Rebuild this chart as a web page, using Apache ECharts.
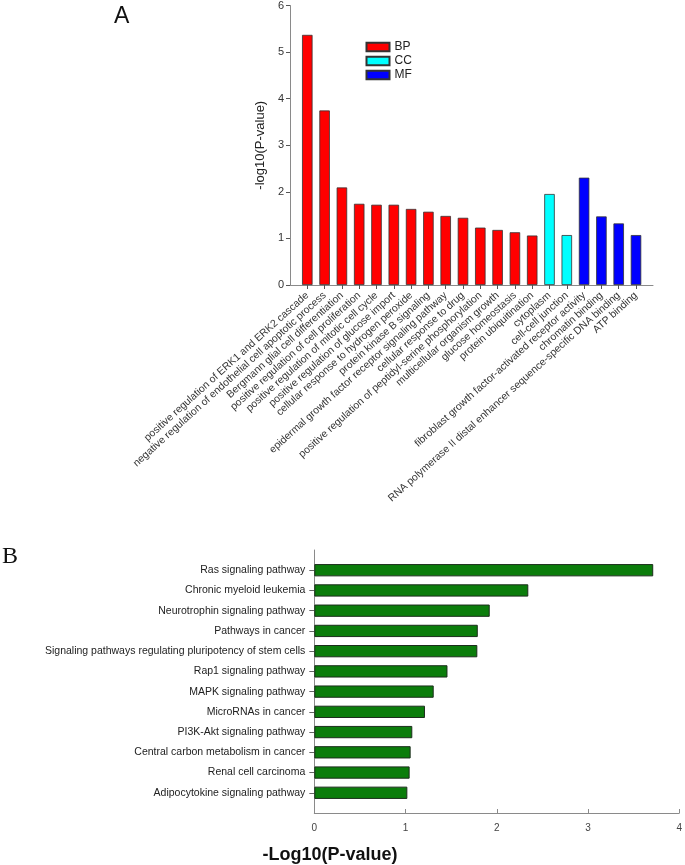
<!DOCTYPE html>
<html>
<head>
<meta charset="utf-8">
<script src="https://cdn.jsdelivr.net/npm/echarts@6/dist/echarts.min.js"></script>
<style>html,body{margin:0;padding:0;background:#fff}#c{width:685px;height:865px}</style>
</head>
<body>
<div id="c"></div>
<script>
// ---- Panel A data ----
const goTerms = [
  "positive regulation of ERK1 and ERK2 cascade",
  "negative regulation of endothelial cell apoptotic process",
  "Bergmann glial cell differentiation",
  "positive regulation of cell proliferation",
  "positive regulation of mitotic cell cycle",
  "positive regulation of glucose import",
  "cellular response to hydrogen peroxide",
  "protein kinase B signaling",
  "epidermal growth factor receptor signaling pathway",
  "cellular response to drug",
  "positive regulation of peptidyl-serine phosphorylation",
  "multicellular organism growth",
  "glucose homeostasis",
  "protein ubiquitination",
  "cytoplasm",
  "cell-cell junction",
  "fibroblast growth factor-activated receptor activity",
  "chromatin binding",
  "RNA polymerase II distal enhancer sequence-specific DNA binding",
  "ATP binding"
];
const bpValues = [5.36, 3.74, 2.09, 1.74, 1.72, 1.72, 1.63, 1.57, 1.48, 1.44, 1.23, 1.18, 1.13, 1.06, '-', '-', '-', '-', '-', '-'];
const ccValues = ['-', '-', '-', '-', '-', '-', '-', '-', '-', '-', '-', '-', '-', '-', 1.95, 1.07, '-', '-', '-', '-'];
const mfValues = ['-', '-', '-', '-', '-', '-', '-', '-', '-', '-', '-', '-', '-', '-', '-', '-', 2.30, 1.47, 1.32, 1.07];
const aTicks = [0, 1, 2, 3, 4, 5, 6];

// ---- Panel B data ----
const pathways = [
  "Ras signaling pathway",
  "Chronic myeloid leukemia",
  "Neurotrophin signaling pathway",
  "Pathways in cancer",
  "Signaling pathways regulating pluripotency of stem cells",
  "Rap1 signaling pathway",
  "MAPK signaling pathway",
  "MicroRNAs in cancer",
  "PI3K-Akt signaling pathway",
  "Central carbon metabolism in cancer",
  "Renal cell carcinoma",
  "Adipocytokine signaling pathway"
];
const pathwayValues = [3.69, 2.33, 1.91, 1.78, 1.775, 1.45, 1.30, 1.205, 1.067, 1.049, 1.038, 1.013];
const bTicks = [0, 1, 2, 3, 4];

const FONT = "'Liberation Sans', Arial, sans-serif";
const axisGray = '#8a8a8a';

const chart = echarts.init(document.getElementById('c'), null, {renderer: 'canvas'});
const option = {
  backgroundColor: '#fff',
  animation: false,
  textStyle: {fontFamily: FONT},
  grid: [
    {left: 290, right: 32, top: 5, height: 280},              // A axes
    {left: 298.65, width: 346, top: 5, height: 280},          // A bars
    {left: 314.3, right: 3.3, top: 550, height: 263},         // B axes
    {left: 314.3, right: 3.3, top: 560.1, height: 242.8}      // B bars
  ],
  legend: {
    data: ['BP', 'CC', 'MF'],
    orient: 'vertical',
    left: 365.5, top: 41,
    padding: 0,
    itemWidth: 23, itemHeight: 8.5, itemGap: 2,
    textStyle: {fontSize: 12, lineHeight: 12, color: '#222', fontFamily: FONT},
    icon: 'rect'
  },
  xAxis: [
    {gridIndex: 0, type: 'value', min: 0, max: 1, axisLabel: {show: false}, axisTick: {show: false}, splitLine: {show: false},
     axisLine: {lineStyle: {color: axisGray, width: 1}}},
    {gridIndex: 1, type: 'category', data: goTerms, boundaryGap: true,
     axisLine: {show: false},
     axisTick: {show: true, alignWithLabel: true, length: 4, lineStyle: {color: '#555'}},
     axisLabel: {interval: 0, rotate: 42, fontSize: 10.4, color: '#333', margin: 9, fontFamily: FONT}},
    {gridIndex: 2, type: 'value', min: bTicks[0], max: bTicks[bTicks.length - 1], interval: 1,
     axisLine: {lineStyle: {color: axisGray}},
     axisTick: {show: true, inside: true, length: 4, lineStyle: {color: axisGray}},
     axisLabel: {fontSize: 10, color: '#444', margin: 10, fontFamily: FONT},
     splitLine: {show: false}},
    {gridIndex: 3, type: 'value', min: 0, max: 4, show: false, splitLine: {show: false}}
  ],
  yAxis: [
    {gridIndex: 0, type: 'value', min: aTicks[0], max: aTicks[aTicks.length - 1], interval: 1,
     name: '-log10(P-value)', nameLocation: 'middle', nameGap: 22,
     nameTextStyle: {fontSize: 13, color: '#222', fontFamily: FONT},
     axisLine: {show: true, lineStyle: {color: axisGray}},
     axisTick: {show: true, length: 4, lineStyle: {color: '#555'}},
     axisLabel: {fontSize: 11, color: '#333', margin: 6, fontFamily: FONT},
     splitLine: {show: false}},
    {gridIndex: 1, type: 'value', min: 0, max: 6, show: false, splitLine: {show: false}},
    {gridIndex: 2, type: 'value', min: 0, max: 1, axisLabel: {show: false}, axisTick: {show: false},
     axisLine: {show: true, lineStyle: {color: axisGray}}, splitLine: {show: false}},
    {gridIndex: 3, type: 'category', data: pathways, inverse: true, boundaryGap: true,
     axisLine: {show: false},
     axisTick: {show: true, alignWithLabel: true, length: 5, lineStyle: {color: '#666'}},
     axisLabel: {fontSize: 10.5, color: '#222', margin: 9, fontFamily: FONT}}
  ],
  series: [
    {name: 'BP', type: 'bar', xAxisIndex: 1, yAxisIndex: 1, data: bpValues, barWidth: 10.5, barGap: '-100%',
     itemStyle: {color: '#ff0000', borderColor: '#333', borderWidth: 0.8}},
    {name: 'CC', type: 'bar', xAxisIndex: 1, yAxisIndex: 1, data: ccValues, barWidth: 10.5, barGap: '-100%',
     itemStyle: {color: '#00ffff', borderColor: '#333', borderWidth: 0.8}},
    {name: 'MF', type: 'bar', xAxisIndex: 1, yAxisIndex: 1, data: mfValues, barWidth: 10.5, barGap: '-100%',
     itemStyle: {color: '#0000ff', borderColor: '#333', borderWidth: 0.8}},
    {name: 'KEGG', type: 'bar', xAxisIndex: 3, yAxisIndex: 3, data: pathwayValues, barWidth: 12.3,
     itemStyle: {color: '#0b7d0b', borderColor: '#1c2e1c', borderWidth: 1}}
  ],
  graphic: [
    {type: 'text', left: 114, top: 5, style: {text: 'A', fontSize: 23, fontFamily: 'Liberation Sans', fill: '#111'}},
    {type: 'text', left: 2, top: 545, style: {text: 'B', fontSize: 24, fontFamily: 'Liberation Serif', fill: '#111'}},
    {type: 'text', x: 330, y: 855, style: {text: '-Log10(P-value)', fontSize: 18, fontWeight: 'bold', fontFamily: 'Liberation Sans', fill: '#111', textAlign: 'center', textVerticalAlign: 'middle'}}
  ]
};
chart.setOption(option);
</script>
</body>
</html>
